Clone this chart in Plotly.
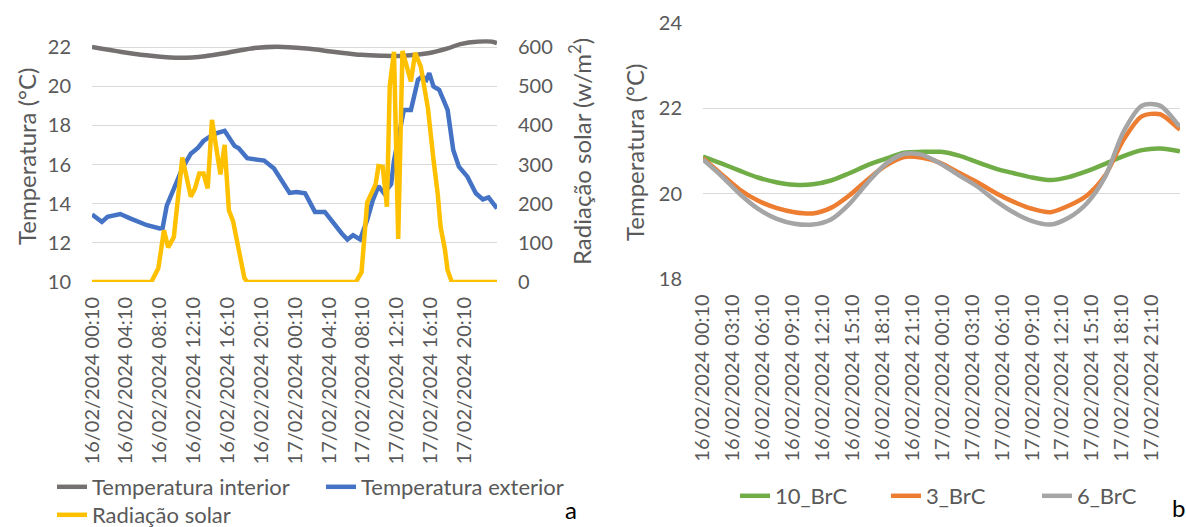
import pandas as pd
import plotly.graph_objects as go

# ---------------------------------------------------------------- data (a)
# Temperatura interior (°C)
int_time = ["16 00:10", "16 03:40", "16 07:40", "16 10:40", "16 13:30", "16 16:00",
            "16 19:00", "16 22:00", "17 01:30", "17 04:50", "17 08:00", "17 10:20",
            "17 13:00", "17 15:50", "17 18:10", "17 19:40", "17 21:50", "17 23:20",
            "18 00:00"]
int_temp = [22.00, 21.75, 21.53, 21.45, 21.53, 21.70, 21.93, 22.02, 21.92, 21.75,
            21.60, 21.56, 21.55, 21.68, 21.93, 22.15, 22.28, 22.28, 22.20]

# Temperatura exterior (°C)
ext_time = ["16 00:10", "16 01:20", "16 02:00", "16 03:30", "16 04:40", "16 05:50",
            "16 06:40", "16 08:10", "16 08:30", "16 09:00", "16 09:50", "16 10:50",
            "16 11:50", "16 12:40", "16 13:20", "16 14:20", "16 15:00", "16 15:50",
            "16 17:00", "16 17:30", "16 18:30", "16 20:30", "16 21:40", "16 23:30",
            "17 00:20", "17 01:20", "17 02:30", "17 03:40", "17 05:40", "17 06:20",
            "17 07:00", "17 07:50", "17 08:40", "17 09:20", "17 10:00", "17 10:40",
            "17 11:30", "17 11:50", "17 12:20", "17 13:00", "17 13:50", "17 14:40",
            "17 15:10", "17 15:40", "17 16:00", "17 16:30", "17 17:10", "17 18:10",
            "17 18:50", "17 19:30", "17 20:30", "17 21:30", "17 22:20", "17 23:00",
            "18 00:00"]
ext_temp = [13.45, 13.07, 13.33, 13.47, 13.25, 13.07, 12.90, 12.73, 12.75, 13.90,
            14.75, 15.80, 16.55, 16.85, 17.20, 17.50, 17.62, 17.72, 16.95, 16.83,
            16.32, 16.20, 15.80, 14.55, 14.60, 14.53, 13.58, 13.58, 12.48, 12.17,
            12.39, 12.17, 13.16, 14.18, 14.90, 14.53, 15.00, 16.20, 17.30, 18.79,
            18.79, 20.33, 20.50, 20.33, 20.67, 19.98, 19.82, 18.79, 16.74, 15.89,
            15.38, 14.53, 14.22, 14.32, 13.76]

# Radiação solar (W/m2)
rad_time = ["16 00:10", "16 07:10", "16 08:00", "16 08:40", "16 09:10", "16 09:50",
            "16 10:50", "16 11:50", "16 12:20", "16 12:50", "16 13:20", "16 13:50",
            "16 14:20", "16 15:20", "16 15:50", "16 16:20", "16 16:50", "16 17:40",
            "16 18:10", "16 18:30", "17 07:20", "17 08:00", "17 08:40", "17 09:40",
            "17 10:00", "17 10:30", "17 11:00", "17 11:20", "17 11:50", "17 12:20",
            "17 12:50", "17 13:50", "17 14:20", "17 15:00", "17 15:50", "17 16:30",
            "17 17:00", "17 17:20", "17 17:50", "17 18:10", "17 18:40", "18 00:00"]
rad_value = [0, 0, 35, 132, 88, 115, 318, 218, 239, 277, 277, 239, 414, 275, 350,
             183, 155, 56, 10, 0, 0, 25, 203, 250, 296, 294, 192, 500, 588, 110,
             590, 512, 585, 550, 445, 312, 225, 141, 85, 30, 0, 0]

# ---------------------------------------------------------------- data (b)
brc_time = ["16 00:10", "16 02:00", "16 03:50", "16 05:40", "16 07:30", "16 09:20",
            "16 11:10", "16 13:00", "16 14:50", "16 16:40", "16 18:30", "16 20:20",
            "16 22:10", "17 00:00", "17 01:50", "17 03:40", "17 05:30", "17 07:20",
            "17 09:10", "17 11:00", "17 12:50", "17 14:40", "17 16:30", "17 18:20",
            "17 20:10", "17 22:00", "17 23:50", "18 00:00"]
brc_10 = [20.87, 20.71, 20.54, 20.38, 20.27, 20.21, 20.22, 20.31, 20.48, 20.67,
          20.82, 20.96, 20.98, 20.98, 20.89, 20.74, 20.59, 20.48, 20.38, 20.32,
          20.39, 20.53, 20.70, 20.88, 21.02, 21.06, 21.00, 20.99]
brc_3 = [20.83, 20.46, 20.10, 19.84, 19.67, 19.57, 19.54, 19.67, 19.96, 20.33,
         20.66, 20.86, 20.84, 20.72, 20.49, 20.27, 20.02, 19.81, 19.65, 19.57,
         19.72, 19.96, 20.43, 21.26, 21.81, 21.86, 21.53, 21.50]
brc_6 = [20.80, 20.42, 20.00, 19.65, 19.42, 19.30, 19.28, 19.40, 19.76, 20.26,
         20.70, 20.93, 20.91, 20.70, 20.43, 20.17, 19.84, 19.56, 19.36, 19.28,
         19.44, 19.78, 20.40, 21.45, 22.06, 22.06, 21.61, 21.57]

T_START = "2024-02-16 00:10"
T_END = "2024-02-18 00:00"


def stamps(values):
    return pd.to_datetime(["2024-02-" + v for v in values])


FONT = "Lato, 'Open Sans', sans-serif"
TXT = "#595959"
GRID = "#D9D9D9"
W, H = 1186, 527


def px_x(x):
    return x / W


def px_y(y):
    return (H - y) / H


fig = go.Figure()

# ---- chart (a)
fig.add_trace(go.Scatter(x=stamps(int_time), y=int_temp, name="Temperatura interior",
                         mode="lines", line=dict(color="#767171", width=4.5, shape="spline", smoothing=0.8),
                         xaxis="x", yaxis="y", legend="legend"))
fig.add_trace(go.Scatter(x=stamps(ext_time), y=ext_temp, name="Temperatura exterior",
                         mode="lines", line=dict(color="#4472C4", width=4.5),
                         xaxis="x", yaxis="y", legend="legend"))
fig.add_trace(go.Scatter(x=stamps(rad_time), y=rad_value, name="Radiação solar",
                         mode="lines", line=dict(color="#FFC000", width=4.5),
                         xaxis="x", yaxis="y2", legend="legend2"))

# ---- chart (b)
for name, vals, col in [("10_BrC", brc_10, "#70AD47"), ("3_BrC", brc_3, "#ED7D31"),
                        ("6_BrC", brc_6, "#A5A5A5")]:
    fig.add_trace(go.Scatter(x=stamps(brc_time), y=vals, name=name, mode="lines",
                             line=dict(color=col, width=4.5, shape="spline", smoothing=0.8),
                             xaxis="x2", yaxis="y3", legend="legend3"))

tick_font = dict(family=FONT, size=20, color=TXT)
date_axis = dict(type="date", tickformat="%d/%m/%Y %H:%M", tickangle=-90, tick0=T_START,
                 showgrid=False, showline=False, zeroline=False, ticks="", automargin=False,
                 tickfont=tick_font, ticklabelstandoff=10, range=[T_START, T_END])
value_axis = dict(zeroline=False, showline=False, ticks="", automargin=False,
                  tickfont=tick_font, ticklabelstandoff=20)
legend_font = dict(family=FONT, size=22, color=TXT)

fig.update_layout(
    template="none",
    width=W, height=H, autosize=False,
    margin=dict(l=0, r=0, t=0, b=0, autoexpand=False),
    paper_bgcolor="white", plot_bgcolor="white",
    font=dict(family=FONT, color=TXT),
    xaxis=dict(domain=[px_x(92), px_x(497)], anchor="y", dtick=4 * 3600 * 1000, **date_axis),
    yaxis=dict(domain=[px_y(282), px_y(39.2)], range=[10, 22.4], tickvals=[10, 12, 14, 16, 18, 20, 22],
               gridcolor=GRID, gridwidth=1.3, **value_axis),
    yaxis2=dict(overlaying="y", side="right", anchor="x", range=[0, 620],
                tickvals=[0, 100, 200, 300, 400, 500, 600], showgrid=False, **value_axis),
    xaxis2=dict(domain=[px_x(703), px_x(1180)], anchor="y3", dtick=3 * 3600 * 1000, **date_axis),
    yaxis3=dict(domain=[px_y(279.3), px_y(22.7)], anchor="x2", range=[18, 24], dtick=2,
                gridcolor=GRID, gridwidth=1.3, **value_axis),
    legend=dict(orientation="h", x=px_x(52), xanchor="left", y=px_y(487), yanchor="middle",
                font=legend_font, entrywidth=224, entrywidthmode="pixels",
                bgcolor="rgba(0,0,0,0)"),
    legend2=dict(orientation="h", x=px_x(52), xanchor="left", y=px_y(515), yanchor="middle",
                 font=legend_font, bgcolor="rgba(0,0,0,0)"),
    legend3=dict(orientation="h", x=px_x(735), xanchor="left", y=px_y(496), yanchor="middle",
                 font=legend_font, entrywidth=106, entrywidthmode="pixels",
                 bgcolor="rgba(0,0,0,0)"),
    showlegend=True,
)

title_font = dict(family=FONT, size=24, color=TXT)
for text, cx, cy in [("Temperatura (°C)", 26, 156),
                     ("Radiação solar (w/m<sup>2</sup>)", 580, 152),
                     ("Temperatura (°C)", 634, 152)]:
    fig.add_annotation(text=text, textangle=-90, x=px_x(cx), y=px_y(cy),
                       xanchor="center", yanchor="middle", xref="paper", yref="paper",
                       showarrow=False, font=title_font)
# panel letters
for text, cx, bottom in [("a", 571, 526), ("b", 1178, 524)]:
    fig.add_annotation(text=text, x=px_x(cx), y=px_y(bottom), xanchor="center", yanchor="bottom",
                       xref="paper", yref="paper", showarrow=False,
                       font=dict(family=FONT, size=24, color="black"))

fig.write_html("out.html")
